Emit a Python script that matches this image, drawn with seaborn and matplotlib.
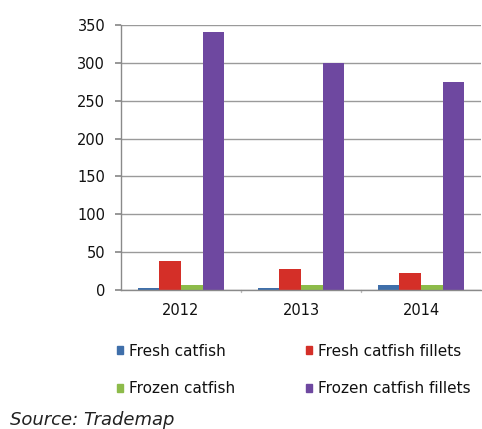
import matplotlib
matplotlib.use("Agg")
import matplotlib.pyplot as plt
import seaborn as sns
import pandas as pd

years = ["2012", "2013", "2014"]
fresh_catfish = [3, 3, 6]
fresh_catfish_fillets = [38, 28, 23]
frozen_catfish = [6, 7, 7]
frozen_catfish_fillets = [340, 300, 274]

series_names = ["Fresh catfish", "Fresh catfish fillets",
                "Frozen catfish", "Frozen catfish fillets"]
colors = ["#3F6FAA", "#D42F28", "#8DBB4A", "#6E48A0"]

df = pd.DataFrame({
    "year": years * 4,
    "value": fresh_catfish + fresh_catfish_fillets + frozen_catfish + frozen_catfish_fillets,
    "series": [s for s in series_names for _ in years],
})

sns.set_theme(style="white")
plt.rcParams["font.family"] = ["DejaVu Sans"]

fig = plt.figure(figsize=(4.82, 4.29), dpi=100)
ax = fig.add_axes([0.251, 0.324, 0.747, 0.618])

sns.barplot(data=df, x="year", y="value", hue="series", hue_order=series_names,
            palette=colors, width=0.72, saturation=1, linewidth=0, ax=ax,
            legend=False, errorbar=None)

ax.set_ylim(0, 350)
ax.set_yticks(range(0, 351, 50))
ax.set_xlim(-0.5, 2.5)
ax.set_xlabel("")
ax.set_ylabel("")
ax.yaxis.grid(True, color="#9a9a9a", linewidth=1)
ax.set_axisbelow(True)
for side in ["top", "right"]:
    ax.spines[side].set_visible(False)
for side in ["left", "bottom"]:
    ax.spines[side].set_color("#8a8a8a")
    ax.spines[side].set_linewidth(1)
ax.tick_params(axis="y", length=4.3, color="#8a8a8a", left=True, labelsize=10.5,
               pad=7, labelcolor="#111111")
ax.tick_params(axis="x", length=0, labelsize=10.5, pad=9, labelcolor="#111111")
for xb in [0.5, 1.5]:
    ax.plot([xb, xb], [0, -3], color="#bbbbbb", linewidth=1, clip_on=False)

# legend laid out row by row: matplotlib fills columns first, so interleave
order = [0, 2, 1, 3]
handles = [plt.Rectangle((0, 0), 1, 1, color=colors[i]) for i in order]
labels = [series_names[i] for i in order]
fig.legend(handles, labels, ncol=2, loc="upper left",
           bbox_to_anchor=(0.226, 0.217), frameon=False, fontsize=11,
           borderpad=0, handlelength=0.4, handleheight=0.4, handletextpad=0.4,
           columnspacing=4.67, labelspacing=1.5, labelcolor="#111111")

fig.text(0.021, 0.021, "Source: Trademap", fontsize=13, style="italic",
         color="#222222", va="center", ha="left")

fig.savefig("out.png", dpi=100)
